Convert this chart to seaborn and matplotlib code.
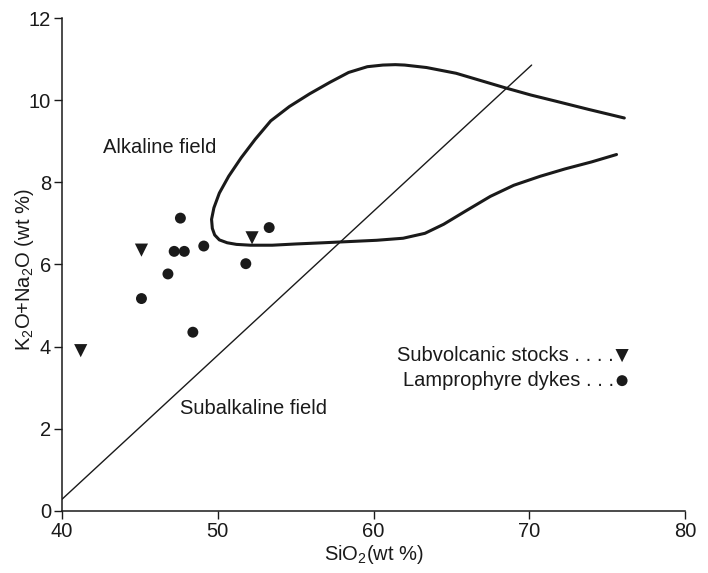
import numpy as np
import pandas as pd
import matplotlib
matplotlib.use("Agg")
import matplotlib.pyplot as plt
import seaborn as sns

# sample points
stocks_sio2 = [41.2, 45.1, 52.2]
stocks_alk = [3.9, 6.35, 6.65]

dykes_sio2 = [47.6, 53.3, 47.2, 47.85, 49.1, 51.8, 46.8, 45.1, 48.4]
dykes_alk = [7.13, 6.9, 6.32, 6.32, 6.45, 6.02, 5.77, 5.17, 4.35]

# alkaline / subalkaline dividing line
div_sio2 = [40.0, 70.15]
div_alk = [0.28, 10.86]

# outline of the field (open curve, upper branch first)
field_sio2 = [76.1, 73.8, 71.7, 70.1, 68.5, 66.9, 65.3, 63.4, 62.0, 61.4, 60.6, 59.6,
              58.4, 57.2, 55.9, 54.6, 53.4, 52.4, 51.5, 50.7, 50.1, 49.75, 49.6, 49.65,
              49.8, 50.1, 50.6, 51.2, 52.1, 53.5, 55.0, 56.8, 58.5, 60.2, 61.9, 63.3,
              64.5, 65.9, 67.5, 69.0, 70.7, 72.3, 74.0, 75.6]
field_alk = [9.57, 9.78, 9.98, 10.13, 10.30, 10.48, 10.66, 10.80, 10.86, 10.87, 10.86, 10.82,
             10.68, 10.44, 10.16, 9.85, 9.50, 9.05, 8.60, 8.15, 7.74, 7.38, 7.10, 6.88,
             6.72, 6.60, 6.53, 6.49, 6.47, 6.47, 6.50, 6.53, 6.56, 6.59, 6.64, 6.76,
             6.98, 7.30, 7.66, 7.93, 8.15, 8.33, 8.50, 8.68]

lab_stocks = "Subvolcanic stocks . . . ."
lab_dykes = "Lamprophyre dykes . . ."

stocks = pd.DataFrame({"sio2": stocks_sio2, "alk": stocks_alk})
dykes = pd.DataFrame({"sio2": dykes_sio2, "alk": dykes_alk})
field = pd.DataFrame({"sio2": field_sio2, "alk": field_alk})
div = pd.DataFrame({"sio2": div_sio2, "alk": div_alk})

sns.set_theme(style="ticks")
plt.rcParams["font.family"] = ["Liberation Sans", "DejaVu Sans"]
plt.rcParams["mathtext.fontset"] = "custom"
plt.rcParams["mathtext.rm"] = "Liberation Sans"

ink = "#1a1a1a"
fs = 14.5

fig = plt.figure(figsize=(7.08, 5.73), dpi=100)
ax = fig.add_axes([0.0876, 0.1087, 0.88, 0.8594])

sns.lineplot(data=field, x="sio2", y="alk", sort=False, estimator=None,
             color=ink, lw=2.2, ax=ax)
sns.lineplot(data=div, x="sio2", y="alk", sort=False, estimator=None,
             color=ink, lw=1.0, ax=ax)
sns.scatterplot(data=stocks, x="sio2", y="alk", marker="v", s=90, color=ink,
                edgecolor="none", label=lab_stocks, ax=ax)
sns.scatterplot(data=dykes, x="sio2", y="alk", marker="o", s=62, color=ink,
                edgecolor="none", label=lab_dykes, ax=ax)

ax.set_xlim(40, 80)
ax.set_ylim(0, 12)
ax.set_xticks([40, 50, 60, 70, 80])
ax.set_yticks([0, 2, 4, 6, 8, 10, 12])
ax.tick_params(labelsize=fs, length=6, width=1, color=ink, labelcolor=ink, pad=2)
sns.despine(ax=ax)
for sp in ("left", "bottom"):
    ax.spines[sp].set_color(ink)
    ax.spines[sp].set_linewidth(1.1)

ax.set_xlabel(r"SiO$_\mathrm{2}$(wt %)", fontsize=fs, color=ink)
ax.set_ylabel(r"K$_\mathrm{2}$O+Na$_\mathrm{2}$O (wt %)", fontsize=fs, color=ink)
ax.xaxis.set_label_coords(0.5, -0.066)
ax.yaxis.set_label_coords(-0.042, 0.49)

ax.text(46.3, 8.85, "Alkaline field", fontsize=fs, ha="center", va="center", color=ink)
ax.text(52.3, 2.5, "Subalkaline field", fontsize=fs, ha="center", va="center", color=ink)

leg = ax.legend(loc="center left", bbox_to_anchor=(0.509, 0.29), frameon=False,
                markerfirst=False, handlelength=0.8, handletextpad=0.0, fontsize=fs,
                labelspacing=0.3, labelcolor=ink)

fig.savefig("out.png", dpi=100)
